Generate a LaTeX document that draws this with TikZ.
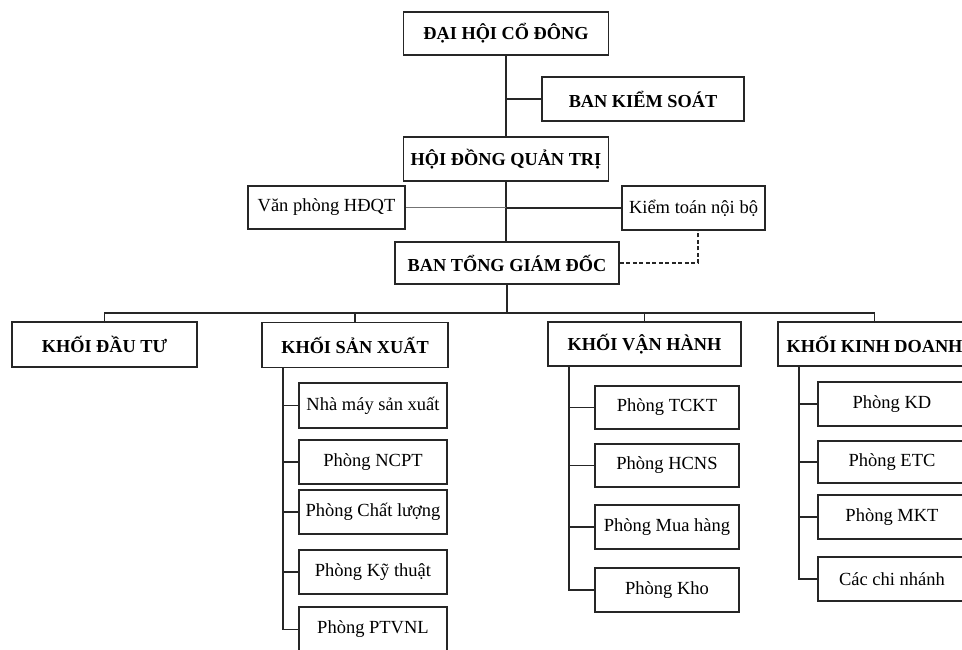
\documentclass[tikz,border=0pt]{standalone}
\usepackage{fontspec}
\setmainfont{Liberation Serif}
\begin{document}
\begin{tikzpicture}[x=1pt,y=-1pt,
  boxbase/.style={draw=black!85, line width=1.5pt, inner sep=0pt, align=center},
  head/.style={boxbase, minimum height=44pt, font=\bfseries\fontsize{18.3}{20}\selectfont},
  sub/.style={boxbase, minimum height=44pt, font=\fontsize{18.5}{20}\selectfont},
  conn/.style={draw=black!85, line width=1.2pt},
  faint/.style={draw=black!55, line width=0.8pt},
  dashconn/.style={draw=black!85, line width=1.3pt, dash pattern=on 4pt off 2.5pt}
]
\useasboundingbox (0,0) rectangle (962,649);
\clip (0,0) rectangle (962,649);
\fill[white] (0,0) rectangle (962,649);

% top levels
\node[head, minimum width=205pt, minimum height=43pt] (dhcd) at (506,33.5) {ĐẠI HỘI CỔ ĐÔNG};
\node[head, minimum width=202pt] (bks) at (643,99) {BAN KIỂM SOÁT};
\node[head, minimum width=205pt] (hdqt) at (506,159) {HỘI ĐỒNG QUẢN TRỊ};
\node[sub, minimum width=157pt, minimum height=43pt] (vp) at (326.5,207.5) {Văn phòng HĐQT};
\node[sub, minimum width=143pt] (kt) at (693.5,208) {Kiểm toán nội bộ};
\node[head, minimum width=224pt, minimum height=42pt] (btgd) at (507,263) {BAN TỔNG GIÁM ĐỐC};

% divisions
\node[head, minimum width=185pt, minimum height=45pt] (kdt) at (104.5,344.5) {KHỐI ĐẦU TƯ};
\node[head, minimum width=186pt, minimum height=45pt] (ksx) at (355,345) {KHỐI SẢN XUẤT};
\node[head, minimum width=193pt] (kvh) at (644.5,344) {KHỐI VẬN HÀNH};
\node[head, minimum width=193pt] (kkd) at (874.5,344) {KHỐI KINH DOANH};

% production
\node[sub, minimum width=148pt, minimum height=45pt] (sx1) at (373,405.5) {Nhà máy sản xuất};
\node[sub, minimum width=148pt] (sx2) at (373,462) {Phòng NCPT};
\node[sub, minimum width=148pt] (sx3) at (373,512) {Phòng Chất lượng};
\node[sub, minimum width=148pt] (sx4) at (373,572) {Phòng Kỹ thuật};
\node[sub, minimum width=148pt, minimum height=45pt] (sx5) at (373,629.5) {Phòng PTVNL};

% operations
\node[sub, minimum width=144pt, minimum height=43pt] (vh1) at (667,407.5) {Phòng TCKT};
\node[sub, minimum width=144pt, minimum height=43pt] (vh2) at (667,465.5) {Phòng HCNS};
\node[sub, minimum width=144pt] (vh3) at (667,527) {Phòng Mua hàng};
\node[sub, minimum width=144pt] (vh4) at (667,590) {Phòng Kho};

% business
\node[sub, minimum width=148pt] (kd1) at (892,404) {Phòng KD};
\node[sub, minimum width=148pt, minimum height=42pt] (kd2) at (892,462) {Phòng ETC};
\node[sub, minimum width=148pt] (kd3) at (892,517) {Phòng MKT};
\node[sub, minimum width=148pt] (kd4) at (892,579) {Các chi nhánh};

% connectors top
\draw[conn] (dhcd.south) -- (hdqt.north);
\draw[conn] (bks.west) -- (dhcd.south |- bks.west);
\draw[conn] (hdqt.south) -- (btgd.north -| hdqt.south);
\draw[faint] (vp.east) -- (hdqt.south |- vp.east);
\draw[conn] (hdqt.south |- kt.west) -- (kt.west);
\draw[dashconn] (btgd.east) -| ([xshift=4.5pt]kt.south);

% bus
\coordinate (bus) at (0,313);
\draw[conn] (btgd.south) -- (btgd.south |- bus);
\draw[conn] (kdt.north) -- (kdt.north |- bus) -- (kkd.north |- bus) -- (kkd.north);
\draw[conn] (ksx.north) -- (ksx.north |- bus);
\draw[conn] (kvh.north) -- (kvh.north |- bus);

% spines
\coordinate (sxs) at (283,368);
\coordinate (vhs) at (569,366);
\coordinate (kds) at (799,366);
\draw[conn] (sxs) |- (sx5.west);
\foreach \n in {sx1,sx2,sx3,sx4} \draw[conn] (sxs |- \n.west) -- (\n.west);
\draw[conn] (vhs) |- (vh4.west);
\foreach \n in {vh1,vh2,vh3} \draw[conn] (vhs |- \n.west) -- (\n.west);
\draw[conn] (kds) |- (kd4.west);
\foreach \n in {kd1,kd2,kd3} \draw[conn] (kds |- \n.west) -- (\n.west);
\end{tikzpicture}
\end{document}
